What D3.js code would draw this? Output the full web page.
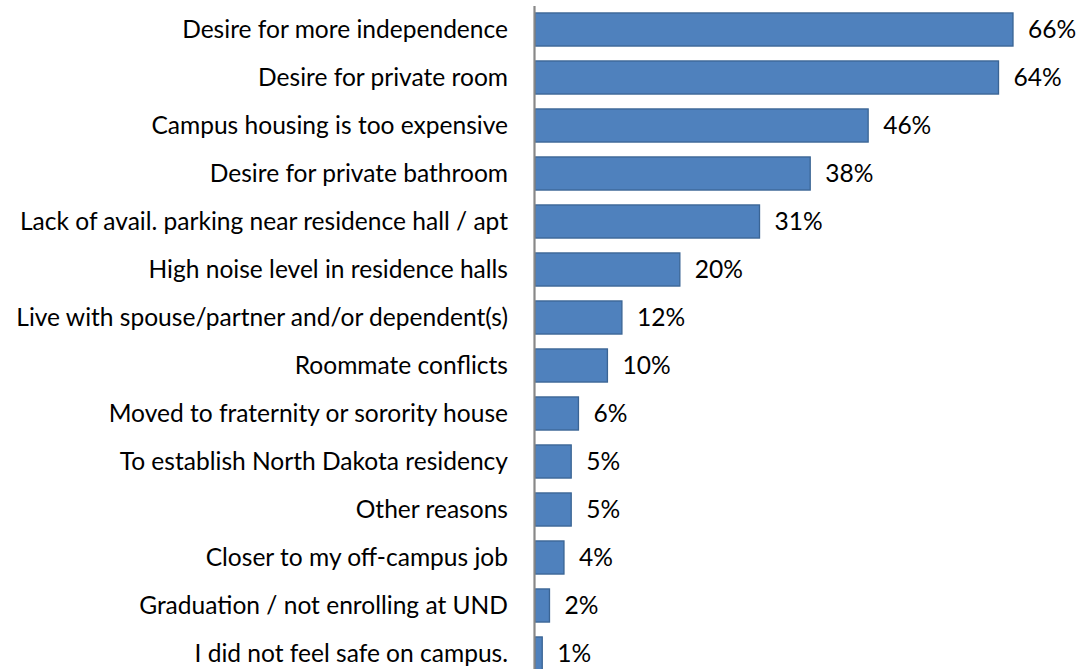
<!DOCTYPE html>
<html>
<head>
<meta charset="utf-8">
<script src="https://cdn.jsdelivr.net/npm/d3@7"></script>
<style>
  html, body { margin: 0; padding: 0; background: #fff; }
  svg { display: block; }
  text { font-family: Lato, "Open Sans", sans-serif; fill: #000; }
</style>
</head>
<body>
<svg id="chart" width="1079" height="669"></svg>
<script>
// Reasons for moving off campus (share of respondents)
const reasons = [
  "Desire for more independence",
  "Desire for private room",
  "Campus housing is too expensive",
  "Desire for private bathroom",
  "Lack of avail. parking near residence hall / apt",
  "High noise level in residence halls",
  "Live with spouse/partner and/or dependent(s)",
  "Roommate conflicts",
  "Moved to fraternity or sorority house",
  "To establish North Dakota residency",
  "Other reasons",
  "Closer to my off-campus job",
  "Graduation / not enrolling at UND",
  "I did not feel safe on campus."
];
const shares = [66, 64, 46, 38, 31, 20, 12, 10, 6, 5, 5, 4, 2, 1];

const svg = d3.select("#chart");
const axisX = 534;

const x = d3.scaleLinear().domain([0, 66]).range([axisX + 1, 1013]);
const y = d3.scaleBand().domain(reasons).range([5.5, 5.5 + 48 * reasons.length]).paddingInner(0.31).paddingOuter(0.155);

// bars
svg.append("g").selectAll("rect")
  .data(reasons)
  .join("rect")
  .attr("x", x(0))
  .attr("y", d => y(d))
  .attr("width", (d, i) => x(shares[i]) - x(0))
  .attr("height", y.bandwidth())
  .attr("fill", "#4F81BD")
  .attr("stroke", "#3A6494")
  .attr("stroke-width", 1.3);

// category axis
const axis = svg.append("g")
  .attr("transform", `translate(${axisX},0)`)
  .call(d3.axisLeft(y).tickSize(0).tickSizeOuter(0).tickPadding(26));
axis.select(".domain").attr("stroke", "#888").attr("stroke-width", 2.2);
axis.selectAll("text")
  .style("font-family", "Lato, 'Open Sans', sans-serif")
  .attr("font-size", 20)
  .attr("fill", "#000")
  .attr("dy", "0.36em");

// fit label font so the longest label spans its measured width
let maxW = 0;
axis.selectAll("text").each(function () { maxW = Math.max(maxW, this.getComputedTextLength()); });
const fs = 20 * 492 / maxW;
axis.selectAll("text").attr("font-size", fs);

// value labels
svg.append("g").selectAll("text")
  .data(reasons)
  .join("text")
  .attr("x", (d, i) => x(shares[i]) + 15)
  .attr("y", d => y(d) + y.bandwidth() / 2)
  .attr("dy", "0.36em")
  .attr("font-size", fs)
  .text((d, i) => shares[i] + "%");
</script>
</body>
</html>
